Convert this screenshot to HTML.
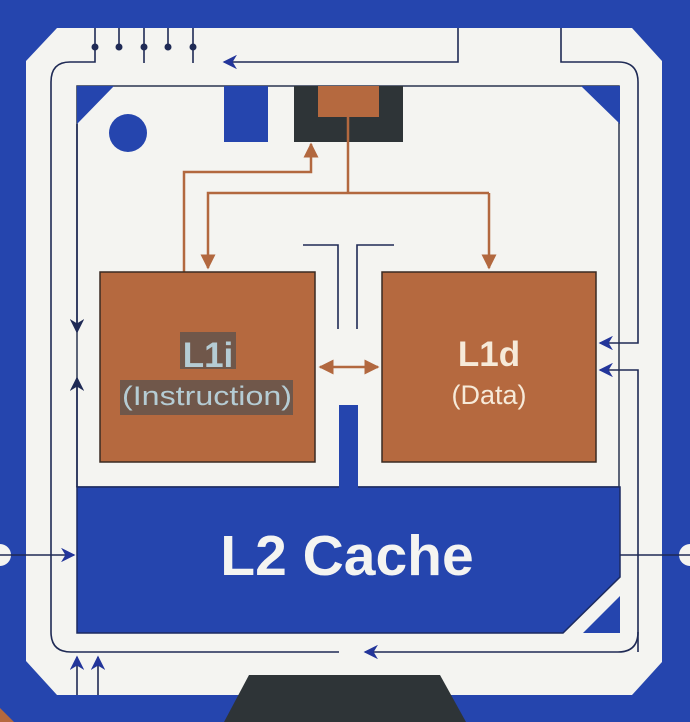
<!DOCTYPE html>
<html><head><meta charset="utf-8"><style>
html,body{margin:0;padding:0;background:#2545ae;}
svg{display:block;}
</style></head><body>
<svg width="690" height="722" viewBox="0 0 690 722" xmlns="http://www.w3.org/2000/svg">
<defs>
<marker id="an" viewBox="0 0 10 10" refX="9" refY="5" markerWidth="9" markerHeight="9" orient="auto-start-reverse"><path d="M0,0 L10,5 L0,10 L3,5 z" fill="#1f2a55"/></marker>
<marker id="ab" viewBox="0 0 10 10" refX="9" refY="5" markerWidth="9" markerHeight="9" orient="auto-start-reverse"><path d="M0,0 L10,5 L0,10 L3,5 z" fill="#23359a"/></marker>
<marker id="ao" viewBox="0 0 10 10" refX="9" refY="5" markerWidth="6" markerHeight="6" orient="auto-start-reverse"><path d="M0,0 L10,5 L0,10 z" fill="#b2683f"/></marker>
</defs>
<rect width="690" height="722" fill="#2545ae"/>
<polygon points="57,28 632,28 662,61 662,662 632,695 57,695 26,661 26,61" fill="#f4f4f1"/>
<circle cx="0" cy="555" r="11" fill="#f4f4f1"/>
<circle cx="690" cy="555" r="11" fill="#f4f4f1"/>
<rect x="77" y="86" width="542" height="401" fill="#f4f4f1" stroke="#2a3550" stroke-width="1.5"/>
<polygon points="77,86 114,86 77,124" fill="#2545ae"/>
<polygon points="581,86 620,86 620,124" fill="#2545ae"/>
<circle cx="128" cy="133" r="19" fill="#2545ae"/>
<rect x="224" y="86" width="44" height="56" fill="#2545ae"/>
<rect x="294" y="86" width="109" height="56" fill="#2e3437"/>
<rect x="318" y="86" width="61" height="31" fill="#b5693f"/>
<polygon points="77,487 620,487 620,577 563,633 77,633" fill="#2545ae" stroke="#1c2a60" stroke-width="1.5"/>
<polygon points="583,633 620,633 620,596" fill="#2545ae"/>
<rect x="339" y="405" width="19" height="84" fill="#2545ae"/>
<text x="347" y="575" text-anchor="middle" font-family="Liberation Sans, sans-serif" font-weight="bold" font-size="57" fill="#f4f4f1">L2 Cache</text>
<polygon points="249,675 440,675 466,722 224,722" fill="#2e3437"/>
<polygon points="0,708 0,722 14,722" fill="#b5693f"/>
<g fill="none" stroke="#1f2a55" stroke-width="1.6">
<path d="M95,28 V62 H70 Q51,62 51,82 V632 Q51,652 71,652 H339"/>
<path d="M119,28 V47 M144,28 V63 M168,28 V47 M193,28 V63"/>
<path d="M458,28 V62 H224" marker-end="url(#ab)"/>
<path d="M561,28 V62 H618 Q638,62 638,82 V343 H600" marker-end="url(#ab)"/>
<path d="M638,652 V370 H600" marker-end="url(#ab)"/>
<path d="M638,632 Q638,652 618,652 H365" marker-end="url(#ab)"/>
<path d="M77,124 V332" marker-end="url(#an)"/>
<path d="M77,487 V378" marker-end="url(#an)"/>
<path d="M0,555 H74" marker-end="url(#ab)"/>
<path d="M620,555 H690"/>
<path d="M77,695 V657" marker-end="url(#ab)"/>
<path d="M98,695 V657" marker-end="url(#ab)"/>
<path d="M303,245 H338 V329 M357,329 V245 H394"/>
</g>
<g fill="#1f2a55"><circle cx="95" cy="47" r="3.5"/><circle cx="119" cy="47" r="3.5"/><circle cx="144" cy="47" r="3.5"/><circle cx="168" cy="47" r="3.5"/><circle cx="193" cy="47" r="3.5"/></g>
<g fill="none" stroke="#b2683f" stroke-width="2.5">
<path d="M348,117 V193"/>
<path d="M489,193 H208 V268" marker-end="url(#ao)"/>
<path d="M489,193 V268" marker-end="url(#ao)"/>
<path d="M184,272 V172 H311 V144" marker-end="url(#ao)"/>
<path d="M320,367 H378" marker-start="url(#ao)" marker-end="url(#ao)"/>
</g>
<rect x="100" y="272" width="215" height="190" fill="#b5693f" stroke="#3a2a22" stroke-width="1.5"/>
<rect x="382" y="272" width="214" height="190" fill="#b5693f" stroke="#3a2a22" stroke-width="1.5"/>
<rect x="180" y="332" width="56" height="37" fill="#70574a"/>
<rect x="120" y="380" width="173" height="35" fill="#70574a"/>
<text x="208" y="367" text-anchor="middle" font-family="Liberation Sans, sans-serif" font-weight="bold" font-size="35" fill="#b5ccd4">L1i</text>
<text x="207" y="405" text-anchor="middle" font-family="Liberation Sans, sans-serif" font-size="27" fill="#b5ccd4" textLength="170" lengthAdjust="spacingAndGlyphs">(Instruction)</text>
<text x="489" y="366" text-anchor="middle" font-family="Liberation Sans, sans-serif" font-weight="bold" font-size="35" fill="#f6ead9">L1d</text>
<text x="489" y="404" text-anchor="middle" font-family="Liberation Sans, sans-serif" font-size="27" fill="#f6ead9">(Data)</text>
</svg>
</body></html>
